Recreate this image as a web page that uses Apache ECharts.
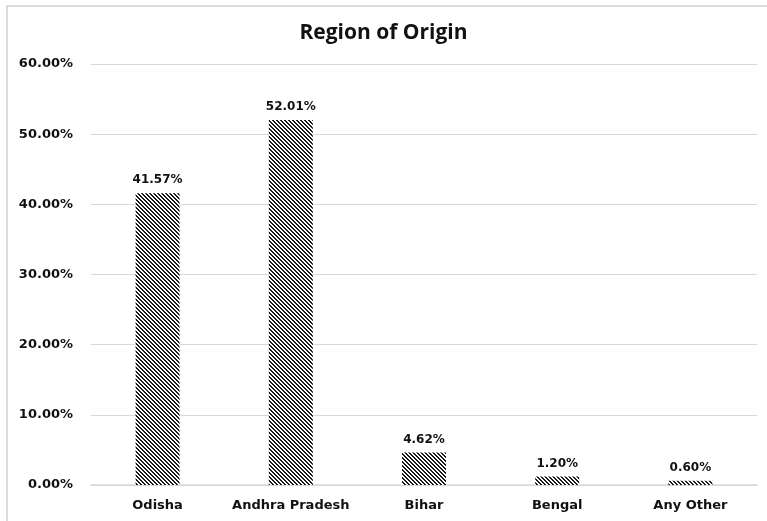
<!DOCTYPE html>
<html>
<head>
<meta charset="utf-8">
<script src="https://cdn.jsdelivr.net/npm/echarts@6/dist/echarts.min.js"></script>
<style>
  html, body { margin: 0; padding: 0; background: #ffffff; }
  #chart { width: 767px; height: 521px; }
</style>
</head>
<body>
<div id="chart"></div>
<script>
const categories = ['Odisha', 'Andhra Pradesh', 'Bihar', 'Bengal', 'Any Other'];
const shares = [41.57, 52.01, 4.62, 1.20, 0.60];
const yTicks = [0, 10, 20, 30, 40, 50, 60];

// Dense diagonal hatch used to fill the bars
function hatch() {
  const c = document.createElement('canvas');
  c.width = 4; c.height = 4;
  const ctx = c.getContext('2d');
  ctx.fillStyle = '#ffffff';
  ctx.fillRect(0, 0, 4, 4);
  ctx.fillStyle = '#1a1a1a';
  for (let y = 0; y < 4; y++) {
    for (let x = 0; x < 4; x++) {
      const d = ((x - y) % 4 + 4) % 4;
      if (d === 0 || d === 1) ctx.fillRect(x, y, 1, 1);
    }
  }
  return c;
}

const axisFont = '"DejaVu Sans", sans-serif';
const titleFont = '"Open Sans", "DejaVu Sans", sans-serif';
const chart = echarts.init(document.getElementById('chart'), null, { renderer: 'canvas' });
chart.setOption({
  animation: false,
  backgroundColor: '#ffffff',
  title: {
    text: 'Region of Origin',
    left: 'center',
    top: 18,
    textStyle: { fontFamily: titleFont, fontWeight: 'bold', fontSize: 21, color: '#111' }
  },
  graphic: [{
    type: 'rect',
    shape: { x: 7, y: 6, width: 780, height: 540 },
    style: { fill: null, stroke: '#d0d0d0', lineWidth: 1.5 },
    silent: true
  }],
  grid: { left: 91, right: 10, top: 64, bottom: 36 },
  xAxis: {
    type: 'category',
    data: categories,
    axisLine: { lineStyle: { color: '#d9d9d9', width: 1.5 } },
    axisTick: { show: false },
    axisLabel: { interval: 0, fontFamily: axisFont, fontWeight: 'bold', fontSize: 13, color: '#111', margin: 14 }
  },
  yAxis: {
    type: 'value',
    min: yTicks[0],
    max: yTicks[yTicks.length - 1],
    interval: 10,
    axisLine: { show: false },
    axisTick: { show: false },
    splitLine: { lineStyle: { color: '#d9d9d9', width: 1 } },
    axisLabel: {
      fontFamily: axisFont, fontWeight: 'bold', fontSize: 13, color: '#111', margin: 18,
      formatter: v => v.toFixed(2) + '%'
    }
  },
  series: [{
    type: 'bar',
    data: shares,
    barWidth: '33%',
    itemStyle: { color: { image: hatch(), repeat: 'repeat' } },
    label: {
      show: true,
      position: 'top',
      distance: 7,
      fontFamily: axisFont, fontWeight: 'bold', fontSize: 12, color: '#111',
      formatter: p => p.value.toFixed(2) + '%'
    }
  }]
});
</script>
</body>
</html>
